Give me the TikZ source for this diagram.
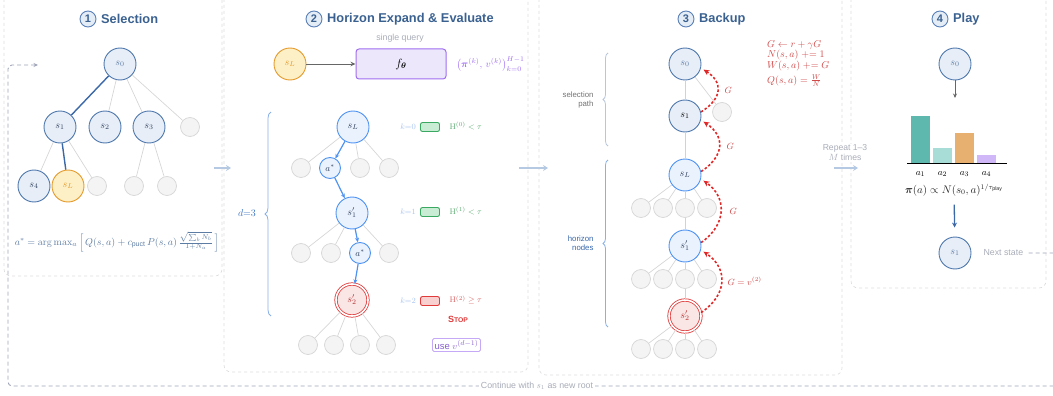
\documentclass[tikz,border=0pt]{standalone}
\usepackage{amsmath,amssymb}
\usepackage[no-math]{fontspec}
\setmainfont{Liberation Sans}
\usetikzlibrary{arrows.meta,decorations.pathreplacing,calc}
\definecolor{ttl}{HTML}{3A6190}
\definecolor{ttlf}{HTML}{E4ECF6}
\definecolor{ttlb}{HTML}{5A80B8}
\definecolor{stb}{HTML}{4F78AD}
\definecolor{stf}{HTML}{E7EEF8}
\definecolor{stt}{HTML}{2E3F5C}
\definecolor{grb}{HTML}{D6D6D6}
\definecolor{grf}{HTML}{F4F4F4}
\definecolor{ylb}{HTML}{E59A2C}
\definecolor{ylf}{HTML}{FDF0C6}
\definecolor{hzb}{HTML}{4E92F2}
\definecolor{hzf}{HTML}{EAF2FD}
\definecolor{rdb}{HTML}{E03A3A}
\definecolor{rdf}{HTML}{FBE6E6}
\definecolor{pnl}{HTML}{DCDCDC}
\definecolor{purp}{HTML}{9F6EF0}
\definecolor{purf}{HTML}{EDE7FC}
\definecolor{flowc}{HTML}{B5C9E3}
\definecolor{loopc}{HTML}{A0A4B8}
\definecolor{txtg}{HTML}{A9ADB8}
\definecolor{fml}{HTML}{5D7CA3}
\definecolor{selc}{HTML}{3A68A8}
\definecolor{klab}{HTML}{A8C4F0}
\definecolor{grn}{HTML}{3AA860}
\definecolor{grnf}{HTML}{C8ECD4}
\definecolor{grnt}{HTML}{5AAA70}
\definecolor{redt}{HTML}{D86060}
\definecolor{redf}{HTML}{F8D0D0}
\definecolor{backc}{HTML}{E02828}
\definecolor{eqc}{HTML}{D04848}
\definecolor{spine}{HTML}{C8D4E4}
\definecolor{brg}{HTML}{B8C6DA}
\definecolor{brb}{HTML}{8AB0E8}
\definecolor{bara}{HTML}{5FB8AE}
\definecolor{barb}{HTML}{A8DCD6}
\definecolor{barc}{HTML}{E8B070}
\definecolor{bard}{HTML}{D0B8F8}
\begin{document}
\begin{tikzpicture}[x=1pt,y=-1pt,
  panel/.style={draw=pnl, dash pattern=on 3pt off 3pt, rounded corners=7pt, line width=0.6pt},
  st/.style={circle, draw=stb, fill=stf, line width=0.9pt, minimum size=32pt, inner sep=0pt, text=stt, font=\fontsize{9.8}{11}\selectfont},
  gr/.style={circle, draw=grb, fill=grf, line width=0.7pt, minimum size=19pt, inner sep=0pt},
  yl/.style={st, draw=ylb, fill=ylf},
  hz/.style={st, draw=hzb, fill=hzf},
  hzs/.style={hz, minimum size=21pt, font=\fontsize{8.8}{10}\selectfont},
  rd/.style={st, draw=rdb, fill=rdf, line width=0.8pt, double=white, double distance=1.6pt},
  eg/.style={draw=grb, line width=0.7pt},
  sp/.style={draw=spine, line width=0.8pt},
  sel/.style={draw=selc, line width=1.4pt},
  harr/.style={draw=hzb, line width=1.2pt, -{Stealth[length=4.5pt,width=4pt]}},
  back/.style={draw=backc, line width=1.6pt, dash pattern=on 2.5pt off 2pt, -{Stealth[length=6pt,width=5.5pt]}},
  flow/.style={draw=flowc, line width=1.5pt, -{Stealth[length=5pt,width=6pt]}},
  numc/.style={circle, draw=ttlb, fill=ttlf, line width=0.9pt, minimum size=16pt, inner sep=0pt, text=ttl, font=\bfseries\fontsize{11}{12}\selectfont},
  ttlt/.style={anchor=west, inner sep=0pt, text=ttl, font=\bfseries\fontsize{12.8}{14}\selectfont},
  brace/.style={decorate, decoration={brace, amplitude=6pt}, line width=0.8pt},
  smallg/.style={text=txtg, font=\fontsize{8.8}{10}\selectfont},
  pill/.style={rounded corners=2pt, line width=0.9pt, minimum width=19pt, minimum height=9pt, inner sep=0pt},
  klb/.style={text=klab, font=\fontsize{8.5}{10}\selectfont},
  eq/.style={anchor=west, inner sep=0pt, text=eqc, font=\fontsize{10}{11}\selectfont},
  glab/.style={anchor=west, text=eqc, font=\fontsize{9}{10}\selectfont}
]
\useasboundingbox (0,0) rectangle (1053,396);

% panels
\draw[panel] (4,-20) rectangle (222,276);
\draw[panel] (224,-20) rectangle (528,372);
\draw[panel] (539,-20) rectangle (842,375);
\draw[panel] (851,-20) rectangle (1046,288);

% titles
\node[numc] (n1) at (88,19) {1};
\node[ttlt] (t1) at (101,19) {Selection};
\node[numc] (n2) at (314,19) {2};
\node[ttlt] (t2) at (327,19) {Horizon Expand \& Evaluate};
\node[numc] (n3) at (686,19) {3};
\node[ttlt] (t3) at (699,19) {Backup};
\node[numc] (n4) at (940,19) {4};
\node[ttlt] (t4) at (953,19) {Play};

% ---------- panel 1
\node[st, text=fml] (a0) at (120,64) {$s_0$};
\node[st] (a1) at (60,127) {$s_1$};
\node[st] (a2) at (105,127) {$s_2$};
\node[st] (a3) at (149,127) {$s_3$};
\node[gr] (ag1) at (190,127) {};
\node[st] (a4) at (34,186) {$s_4$};
\node[yl, text=ylb] (aL) at (68,186) {$s_L$};
\node[gr] (ag2) at (97,186) {};
\node[gr] (ag3) at (134,186) {};
\node[gr] (ag4) at (167,186) {};
\draw[eg] (a0) -- (a2);
\draw[eg] (a0) -- (a3);
\draw[eg] (a0) -- (ag1);
\draw[eg] (a1) -- (a4);
\draw[eg] (a1) -- (ag2);
\draw[eg] (a3) -- (ag3);
\draw[eg] (a3) -- (ag4);
\draw[sel] (a0) -- (a1);
\draw[sel] (a1) -- (aL);
\node[text=fml, font=\fontsize{9.9}{11}\selectfont] (ucb) at (117,242)
  {$a^* = \arg\max_a \Big[\, Q(s,a) + c_{\text{puct}}\, P(s,a)\, \frac{\sqrt{\sum_b N_b}}{1+N_a} \,\Big]$};

% ---------- panel 2
\node[smallg] (sq) at (400,38) {single query};
\node[yl, text=ylb] (bL0) at (290,64) {$s_L$};
\node[draw=purp, fill=purf, line width=1pt, rounded corners=3pt, minimum width=90pt, minimum height=30pt, font=\fontsize{12}{13}\selectfont] (fth) at (401,64) {$f_{\boldsymbol{\theta}}$};
\draw[draw=black!60, line width=0.9pt, -{Stealth[length=5pt,width=4.5pt]}] (bL0) -- (fth);
\node[anchor=west, text=purp, font=\fontsize{10.2}{11}\selectfont] (out) at (453,64) {$\big(\boldsymbol{\pi}^{(k)},\, v^{(k)}\big)_{k=0}^{H-1}$};

\draw[brace, draw=brb] (271,316) -- (271,112);
\node[text=hzb!80!black, font=\fontsize{10}{11}\selectfont] (dlab) at (247,213) {$d{=}3$};

\node[hz] (c0) at (353,127) {$s_L$};
\node[gr] (cg1) at (301,168) {};
\node[hzs] (ca1) at (330,168) {$a^*$};
\node[gr] (cg2) at (360,168) {};
\node[gr] (cg3) at (389,168) {};
\node[hz] (c1) at (352,213) {$s_1'$};
\node[gr] (cg4) at (301,253) {};
\node[gr] (cg5) at (331,253) {};
\node[hzs] (ca2) at (360,253) {$a^*$};
\node[gr] (cg6) at (389,253) {};
\node[rd, text=rdb!80!black] (c2) at (352,300) {$s_2'$};
\node[gr] (cg7) at (308,345) {};
\node[gr] (cg8) at (334,345) {};
\node[gr] (cg9) at (360,345) {};
\node[gr] (cg10) at (386,345) {};
\draw[eg] (c0) -- (cg1);
\draw[eg] (c0) -- (cg2);
\draw[eg] (c0) -- (cg3);
\draw[eg] (c1) -- (cg4);
\draw[eg] (c1) -- (cg5);
\draw[eg] (c1) -- (cg6);
\draw[eg] (c2) -- (cg7);
\draw[eg] (c2) -- (cg8);
\draw[eg] (c2) -- (cg9);
\draw[eg] (c2) -- (cg10);
\draw[harr] (c0) -- (ca1);
\draw[harr] (ca1) -- (c1);
\draw[harr] (c1) -- (ca2);
\draw[harr] (ca2) -- (c2);

\node[klb] (k0) at (408,127) {$k{=}0$};
\node[pill, draw=grn, fill=grnf] (p0) at (430,127) {};
\node[anchor=west, text=grnt, font=\fontsize{8.5}{10}\selectfont] (h0) at (446,126) {$\mathrm{H}^{(0)} < \tau$};
\node[klb] (k1) at (408,212) {$k{=}1$};
\node[pill, draw=grn, fill=grnf] (p1) at (430,212) {};
\node[anchor=west, text=grnt, font=\fontsize{8.5}{10}\selectfont] (h1) at (446,211) {$\mathrm{H}^{(1)} < \tau$};
\node[klb] (k2) at (408,301) {$k{=}2$};
\node[pill, draw=rdb, fill=redf] (p2) at (430,301) {};
\node[anchor=west, text=redt, font=\fontsize{8.5}{10}\selectfont] (h2) at (446,300) {$\mathrm{H}^{(2)} \geq \tau$};
\node[text=rdb, font=\bfseries] (stop) at (458,319) {{\fontsize{9}{10}\selectfont S}{\fontsize{6.8}{8}\selectfont TOP}};
\node[draw=purp!60, line width=0.8pt, rounded corners=1.5pt, text=purp!85!black, inner sep=2pt, font=\fontsize{9.5}{11}\selectfont] (use) at (456.5,345) {use $v^{(d-1)}$};

% ---------- panel 3
\node[st, text=fml] (b0) at (685,64) {$s_0$};
\node[st, text=black] (b1) at (685,116) {$s_1$};
\node[gr] (bg) at (722,112) {};
\node[hz] (bL) at (685,175) {$s_L$};
\node[gr] (r1a) at (641,208) {};
\node[gr] (r1b) at (663,208) {};
\node[gr] (r1c) at (685,208) {};
\node[gr] (r1d) at (707,208) {};
\node[hz] (b1p) at (685,246) {$s_1'$};
\node[gr] (r2a) at (641,279) {};
\node[gr] (r2b) at (663,279) {};
\node[gr] (r2c) at (685,279) {};
\node[gr] (r2d) at (707,279) {};
\node[rd, text=rdb!80!black] (b2p) at (685,316) {$s_2'$};
\node[gr] (r3a) at (641,349) {};
\node[gr] (r3b) at (663,349) {};
\node[gr] (r3c) at (685,349) {};
\node[gr] (r3d) at (707,349) {};
\draw[sp] (b0) -- (b1);
\draw[eg] (b0) -- (bg);
\draw[sp] (b1) -- (bL);
\draw[eg] (bL) -- (r1a);
\draw[eg] (bL) -- (r1b);
\draw[eg] (bL) -- (r1d);
\draw[sp] (bL) -- (r1c);
\draw[sp] (r1c) -- (b1p);
\draw[eg] (b1p) -- (r2a);
\draw[eg] (b1p) -- (r2b);
\draw[eg] (b1p) -- (r2d);
\draw[sp] (b1p) -- (r2c);
\draw[sp] (r2c) -- (b2p);
\draw[eg] (b2p) -- (r3a);
\draw[eg] (b2p) -- (r3b);
\draw[eg] (b2p) -- (r3d);
\draw[sp] (b2p) -- (r3c);

\draw[back, shorten >=3pt] (b2p.12) .. controls +(27,-18) and +(27,18) .. (b1p.-14);
\draw[back, shorten >=3pt] (b1p.12) .. controls +(26,-18) and +(26,18) .. (bL.-14);
\draw[back, shorten >=3pt] (bL.12) .. controls +(24,-16) and +(24,16) .. (b1.-14);
\draw[back, shorten >=3pt] (b1.14) .. controls +(22,-14) and +(22,14) .. (b0.-14);
\node[glab] (gl1) at (724,281) {$G = v^{(2)}$};
\node[glab] (gl2) at (726,211) {$G$};
\node[glab] (gl3) at (723,146) {$G$};
\node[glab] (gl4) at (721,90) {$G$};

\node[eq] (e1) at (767,45) {$G \leftarrow r + \gamma G$};
\node[eq] (e2) at (767,55.5) {$N(s,a) \mathrel{+}= 1$};
\node[eq] (e3) at (767,66) {$W(s,a) \mathrel{+}= G$};
\node[eq] (e4) at (767,80.5) {$Q(s,a) = \tfrac{W}{N}$};

\draw[brace, draw=brg, decoration={amplitude=5pt}] (608,146) -- (608,53);
\node[anchor=east, align=right, text=black!55, font=\fontsize{7.8}{9}\selectfont] (selp) at (597,100) {selection\\path};
\draw[brace, draw=brb, decoration={amplitude=5pt}] (608,327) -- (608,160);
\node[anchor=east, align=right, text=hzb!70!black, font=\fontsize{7.8}{9}\selectfont] (hzn) at (597,243) {horizon\\nodes};

% ---------- panel 4
\node[st, text=fml] (q0) at (955,64) {$s_0$};
\coordinate (qa) at (955,98);
\draw[draw=black!60, line width=0.9pt, -{Stealth[length=4.5pt,width=4pt]}] (q0) -- (qa);
\fill[bara] (911,116) rectangle (930,163.5);
\fill[barb] (933,148) rectangle (952,163.5);
\fill[barc] (955,133) rectangle (974,163.5);
\fill[bard] (977,155) rectangle (996,163.5);
\draw[line width=1.2pt] (907,163.5) -- (1007,163.5);
\node[font=\fontsize{9.5}{10}\selectfont] (la1) at (920.5,174) {$a_1$};
\node[font=\fontsize{9.5}{10}\selectfont] (la2) at (942.5,174) {$a_2$};
\node[font=\fontsize{9.5}{10}\selectfont] (la3) at (964.5,174) {$a_3$};
\node[font=\fontsize{9.5}{10}\selectfont] (la4) at (986.5,174) {$a_4$};
\node[text=black!85, font=\fontsize{10.5}{12}\selectfont] (pif) at (954,190) {$\boldsymbol{\pi}(a) \propto N(s_0,a)^{1/\tau_{\text{play}}}$};
\node[st, text=fml] (q1) at (955,253) {$s_1$};
\draw[draw=selc, line width=1.3pt, -{Stealth[length=5pt,width=5pt]}, shorten <=5pt, shorten >=9pt] (pif) -- (q1);
\node[smallg, anchor=west] (nxt) at (980,253) {Next state};

% ---------- flow arrows
\coordinate (f1a) at (214,168); \coordinate (f1b) at (231,168);
\coordinate (f2a) at (519,168); \coordinate (f2b) at (548,168);
\coordinate (f3a) at (834,168); \coordinate (f3b) at (858,168);
\draw[flow] (f1a) -- (f1b);
\draw[flow] (f2a) -- (f2b);
\draw[flow] (f3a) -- (f3b);
\node[fill=white, inner sep=1pt, text=txtg, align=center, font=\fontsize{8.6}{10}\selectfont] (rep) at (845,153) {Repeat 1–3\\$M$ times};

% ---------- loop
\coordinate (l1) at (1064,253);
\coordinate (l2) at (1064,386);
\coordinate (l3) at (8,386);
\coordinate (l4) at (8,65);
\coordinate (l5) at (38,65);
\draw[draw=loopc, line width=0.9pt, dash pattern=on 4pt off 3pt, rounded corners=4pt, -{Stealth[length=4.5pt,width=4pt]}, shorten <=2pt] (nxt.east) -- (l1) -- (l2) -- (l3) -- (l4) -- (l5);
\node[fill=white, text=txtg, inner sep=2pt, font=\fontsize{8.8}{10}\selectfont] (cont) at (537,386) {Continue with $s_1$ as new root};
\end{tikzpicture}
\end{document}
